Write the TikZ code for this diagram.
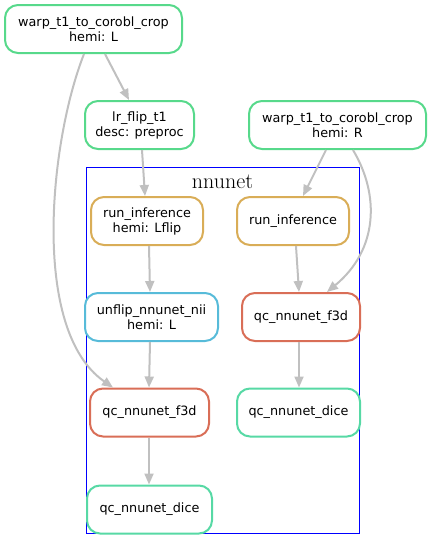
\documentclass[tikz,border=0pt]{standalone}
\usepackage{fontspec}
\newfontfamily\dejavu{DejaVu Sans}
\usetikzlibrary{arrows.meta,calc}
\definecolor{cgreen}{RGB}{87,217,139}
\definecolor{cteal}{RGB}{87,217,165}
\definecolor{corange}{RGB}{217,173,87}
\definecolor{cblue}{RGB}{87,187,217}
\definecolor{cred}{RGB}{217,110,87}
\definecolor{cedge}{RGB}{192,192,192}
\tikzset{
  x=1pt,y=1pt,
  rule/.style={draw=#1, line width=2pt, rounded corners=13pt, fill=white,
    inner sep=0pt, minimum height=48pt, align=center,
    font=\dejavu\fontsize{12.8}{15}\selectfont},
  edge/.style={draw=cedge, line width=2pt, -{Triangle[length=11pt,width=9pt]}},
  cluster/.style={draw=blue, line width=1pt}
}
\begin{document}
\begin{tikzpicture}
\useasboundingbox (0,0) rectangle (431,-549);
% cluster
\draw[cluster] (86,-167) rectangle (359,-533);
\node[anchor=base, font=\fontsize{22}{26}\selectfont] (clabel) at (222.5,-188) {nnunet};
% nodes
\node[rule=cgreen, minimum width=177pt] (warpL) at (93.5,-29) {warp\_t1\_to\_corobl\_crop\\hemi: L};
\node[rule=cgreen, minimum width=109pt] (lrflip) at (139.5,-125) {lr\_flip\_t1\\desc: preproc};
\node[rule=cgreen, minimum width=177pt] (warpR) at (337.5,-125) {warp\_t1\_to\_corobl\_crop\\hemi: R};
\node[rule=corange, minimum width=112pt] (runL) at (147,-221) {run\_inference\\hemi: Lflip};
\node[rule=corange, minimum width=112pt] (runR) at (293,-221) {run\_inference};
\node[rule=cblue, minimum width=133pt] (unflip) at (151.5,-317) {unflip\_nnunet\_nii\\hemi: L};
\node[rule=cred, minimum width=118pt] (f3dR) at (301,-317) {qc\_nnunet\_f3d};
\node[rule=cred, minimum width=119pt] (f3dL) at (149.5,-412.5) {qc\_nnunet\_f3d};
\node[rule=cteal, minimum width=123pt] (diceR) at (298.5,-412.5) {qc\_nnunet\_dice};
\node[rule=cteal, minimum width=125pt] (diceL) at (149.5,-509.5) {qc\_nnunet\_dice};
% edges
\draw[edge] ($(warpL.south)+(11.5,0)$) -- ($(lrflip.north)+(-10.5,0)$);
\draw[edge] ($(warpL.south)+(-9.5,0)$) .. controls (50,-140) and (30,-330) .. ($(f3dL.north)+(-36.5,0)$);
\draw[edge] ($(lrflip.south)+(2.5,0)$) -- ($(runL.north)+(-2,0)$);
\draw[edge] ($(warpR.south)+(-11.5,0)$) -- ($(runR.north)+(10,0)$);
\draw[edge] ($(warpR.south)+(15.5,0)$) .. controls (380,-195) and (378,-250) .. ($(f3dR.north)+(26,0)$);
\draw[edge] ($(runL.south)+(2,0)$) -- ($(unflip.north)+(-1.5,0)$);
\draw[edge] ($(runR.south)+(3,0)$) -- ($(f3dR.north)+(-2,0)$);
\draw[edge] ($(unflip.south)+(-1.5,0)$) -- ($(f3dL.north)+(-0.5,0)$);
\draw[edge] ($(f3dR.south)+(-2,0)$) -- ($(diceR.north)+(0.5,0)$);
\draw[edge] ($(f3dL.south)+(-0.5,0)$) -- ($(diceL.north)+(-0.5,0)$);
\end{tikzpicture}
\end{document}
